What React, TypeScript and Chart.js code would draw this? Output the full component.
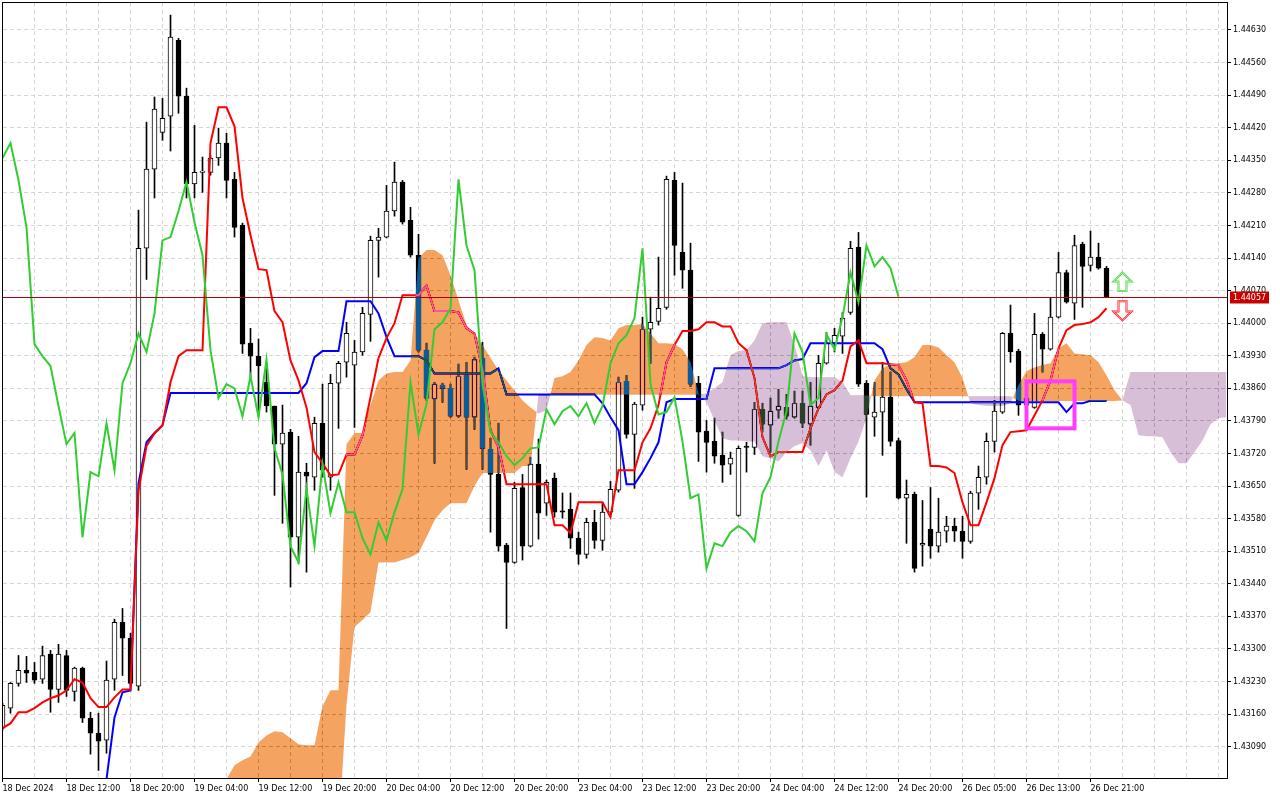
import React, { useEffect, useRef } from 'react';
import { Chart, registerables } from 'chart.js';

// ---------- data ----------
const xLabelIndex = [0, 8, 16, 24, 32, 40, 48, 56, 64, 72, 80, 88, 96, 104, 112, 120, 128, 136];
const xLabels = ['18 Dec 2024', '18 Dec 12:00', '18 Dec 20:00', '19 Dec 04:00', '19 Dec 12:00', '19 Dec 20:00',
  '20 Dec 04:00', '20 Dec 12:00', '20 Dec 20:00', '23 Dec 04:00', '23 Dec 12:00', '23 Dec 20:00',
  '24 Dec 04:00', '24 Dec 12:00', '24 Dec 20:00', '26 Dec 05:00', '26 Dec 13:00', '26 Dec 21:00'];

const yTicks = [1.43090, 1.43160, 1.43230, 1.43300, 1.43370, 1.43440, 1.43510, 1.43580, 1.43650, 1.43720,
  1.43790, 1.43860, 1.43930, 1.44000, 1.44070, 1.44140, 1.44210, 1.44280, 1.44350, 1.44420, 1.44490,
  1.44560, 1.44630];

const opens = [
  1.43130, 1.43173, 1.43226, 1.43254, 1.43250, 1.43235, 1.43289, 1.43213, 1.43286, 1.43209,
  1.43259, 1.43151, 1.43119, 1.43104, 1.43235, 1.43357, 1.43323, 1.43220, 1.44161, 1.44331,
  1.44410, 1.44445, 1.44608, 1.44488, 1.44299, 1.44324, 1.44324, 1.44355, 1.44387, 1.44309,
  1.44211, 1.43957, 1.43929, 1.43873, 1.43822, 1.43740, 1.43766, 1.43540, 1.43680, 1.43669,
  1.43785, 1.43669, 1.43871, 1.43916, 1.43910, 1.43938, 1.44019, 1.44178, 1.44185, 1.44241,
  1.44303, 1.44221, 1.44146, 1.43942, 1.43837, 1.43867, 1.43860, 1.43800, 1.43888, 1.43798,
  1.43925, 1.43729, 1.43675, 1.43523, 1.43486, 1.43647, 1.43521, 1.43697, 1.43613, 1.43667,
  1.43597, 1.43600, 1.43538, 1.43503, 1.43572, 1.43533, 1.43594, 1.43641, 1.43875, 1.43761,
  1.43824, 1.43987, 1.44004, 1.44034, 1.44307, 1.44152, 1.44114, 1.43871, 1.43768, 1.43746,
  1.43716, 1.43697, 1.43587, 1.43736, 1.43733, 1.43815, 1.43781, 1.43813, 1.43819, 1.43798,
  1.43828, 1.43783, 1.43819, 1.43914, 1.43957, 1.43972, 1.44023, 1.44163, 1.43871, 1.43798,
  1.43809, 1.43841, 1.43748, 1.43624, 1.43632, 1.43523, 1.43557, 1.43521, 1.43553, 1.43564,
  1.43553, 1.43531, 1.43635, 1.43669, 1.43746, 1.43809, 1.43978, 1.43940, 1.43824, 1.43819,
  1.43976, 1.43944, 1.44013, 1.44109, 1.44043, 1.44170, 1.44124, 1.44142, 1.44118,
];
const highs = [
  1.43183, 1.43228, 1.43286, 1.43284, 1.43271, 1.43306, 1.43297, 1.43310, 1.43297, 1.43261,
  1.43261, 1.43164, 1.43162, 1.43274, 1.43364, 1.43387, 1.43334, 1.44243, 1.44432, 1.44486,
  1.44483, 1.44662, 1.44612, 1.44505, 1.44425, 1.44357, 1.44361, 1.44419, 1.44408, 1.44324,
  1.44215, 1.43989, 1.43966, 1.43910, 1.43822, 1.43824, 1.43772, 1.43757, 1.43699, 1.43798,
  1.43869, 1.43890, 1.43918, 1.44002, 1.43963, 1.44034, 1.44187, 1.44204, 1.44296, 1.44346,
  1.44307, 1.44249, 1.44191, 1.43957, 1.43873, 1.43871, 1.43869, 1.43912, 1.43916, 1.43927,
  1.43959, 1.43753, 1.43785, 1.43527, 1.43658, 1.43675, 1.43712, 1.43751, 1.43663, 1.43678,
  1.43635, 1.43635, 1.43551, 1.43581, 1.43598, 1.43615, 1.43660, 1.43884, 1.43888, 1.43830,
  1.44013, 1.44056, 1.44142, 1.44316, 1.44324, 1.44301, 1.44172, 1.43886, 1.43791, 1.43796,
  1.43766, 1.43723, 1.43736, 1.43744, 1.43830, 1.43828, 1.43839, 1.43858, 1.43847, 1.43854,
  1.43854, 1.43873, 1.43931, 1.43980, 1.43989, 1.44023, 1.44176, 1.44195, 1.43877, 1.43873,
  1.43916, 1.43895, 1.43753, 1.43663, 1.43637, 1.43619, 1.43647, 1.43624, 1.43585, 1.43581,
  1.43585, 1.43639, 1.43693, 1.43764, 1.43834, 1.43980, 1.44039, 1.43944, 1.43852, 1.44021,
  1.43980, 1.44054, 1.44152, 1.44114, 1.44189, 1.44174, 1.44198, 1.44172, 1.44122,
];
const lows = [
  1.43125, 1.43162, 1.43220, 1.43228, 1.43226, 1.43226, 1.43164, 1.43185, 1.43198, 1.43188,
  1.43142, 1.43074, 1.43039, 1.43076, 1.43211, 1.43243, 1.43222, 1.43211, 1.44094, 1.44269,
  1.44393, 1.44370, 1.44451, 1.44269, 1.44269, 1.44281, 1.44318, 1.44339, 1.44269, 1.44185,
  1.43935, 1.43884, 1.43800, 1.43809, 1.43630, 1.43570, 1.43433, 1.43484, 1.43465, 1.43641,
  1.43669, 1.43641, 1.43774, 1.43884, 1.43776, 1.43931, 1.43961, 1.44099, 1.44183, 1.44230,
  1.44213, 1.44142, 1.43938, 1.43834, 1.43699, 1.43830, 1.43798, 1.43798, 1.43686, 1.43772,
  1.43686, 1.43551, 1.43510, 1.43344, 1.43484, 1.43491, 1.43519, 1.43536, 1.43587, 1.43583,
  1.43581, 1.43516, 1.43482, 1.43495, 1.43516, 1.43512, 1.43587, 1.43637, 1.43753, 1.43645,
  1.43813, 1.43914, 1.43996, 1.44030, 1.44103, 1.44075, 1.43864, 1.43703, 1.43680, 1.43699,
  1.43658, 1.43675, 1.43585, 1.43680, 1.43718, 1.43766, 1.43723, 1.43796, 1.43794, 1.43796,
  1.43776, 1.43738, 1.43817, 1.43912, 1.43938, 1.43935, 1.44019, 1.43864, 1.43626, 1.43757,
  1.43716, 1.43736, 1.43622, 1.43527, 1.43465, 1.43478, 1.43495, 1.43508, 1.43529, 1.43531,
  1.43495, 1.43527, 1.43600, 1.43654, 1.43723, 1.43806, 1.43916, 1.43802, 1.43813, 1.43817,
  1.43895, 1.43942, 1.44011, 1.44043, 1.44008, 1.44034, 1.44112, 1.44116, 1.44056,
];
const closes = [
  1.43179, 1.43226, 1.43254, 1.43248, 1.43233, 1.43286, 1.43213, 1.43289, 1.43211, 1.43259,
  1.43151, 1.43119, 1.43102, 1.43233, 1.43357, 1.43323, 1.43226, 1.44161, 1.44331, 1.44460,
  1.44440, 1.44615, 1.44488, 1.44299, 1.44324, 1.44327, 1.44355, 1.44387, 1.44307, 1.44206,
  1.43955, 1.43929, 1.43908, 1.43822, 1.43740, 1.43764, 1.43540, 1.43680, 1.43671, 1.43785,
  1.43684, 1.43871, 1.43914, 1.43978, 1.43938, 1.44021, 1.44178, 1.44185, 1.44241, 1.44303,
  1.44217, 1.44146, 1.43942, 1.43839, 1.43869, 1.43860, 1.43800, 1.43886, 1.43798, 1.43922,
  1.43731, 1.43675, 1.43521, 1.43486, 1.43645, 1.43521, 1.43697, 1.43592, 1.43658, 1.43594,
  1.43594, 1.43538, 1.43503, 1.43572, 1.43533, 1.43594, 1.43643, 1.43873, 1.43761, 1.43826,
  1.43987, 1.44002, 1.44032, 1.44309, 1.44167, 1.44114, 1.43869, 1.43766, 1.43744, 1.43714,
  1.43695, 1.43710, 1.43731, 1.43733, 1.43815, 1.43783, 1.43811, 1.43822, 1.43800, 1.43828,
  1.43785, 1.43822, 1.43914, 1.43957, 1.43974, 1.44011, 1.44161, 1.43869, 1.43804, 1.43809,
  1.43841, 1.43746, 1.43624, 1.43632, 1.43473, 1.43527, 1.43521, 1.43551, 1.43564, 1.43553,
  1.43531, 1.43635, 1.43669, 1.43746, 1.43811, 1.43978, 1.43938, 1.43824, 1.43839, 1.43976,
  1.43944, 1.44013, 1.44109, 1.44045, 1.44167, 1.44122, 1.44142, 1.44118, 1.44057,
];

const tenkan = [
  1.43130, 1.43140, 1.43164, 1.43164, 1.43173, 1.43185, 1.43194, 1.43200, 1.43211, 1.43235,
  1.43228, 1.43194, 1.43175, 1.43175, 1.43196, 1.43213, 1.43213, 1.43641, 1.43736, 1.43763,
  1.43780, 1.43873, 1.43929, 1.43942, 1.43942, 1.43942, 1.44387, 1.44464, 1.44464, 1.44423,
  1.44269, 1.44189, 1.44116, 1.44114, 1.44026, 1.44002, 1.43920, 1.43877, 1.43819, 1.43723,
  1.43699, 1.43673, 1.43675, 1.43718, 1.43718, 1.43759, 1.43841, 1.43925, 1.43968, 1.44000,
  1.44060, 1.44060, 1.44060, 1.44081, 1.44026, 1.44026, 1.44026, 1.44023, 1.43989, 1.43978,
  1.43899, 1.43770, 1.43733, 1.43654, 1.43654, 1.43654, 1.43654, 1.43654, 1.43654, 1.43566,
  1.43566, 1.43549, 1.43615, 1.43615, 1.43615, 1.43615, 1.43583, 1.43684, 1.43684, 1.43684,
  1.43744, 1.43774, 1.43824, 1.43916, 1.43953, 1.43983, 1.43983, 1.43987, 1.44002, 1.44002,
  1.43993, 1.43993, 1.43957, 1.43942, 1.43882, 1.43755, 1.43714, 1.43723, 1.43723, 1.43723,
  1.43723, 1.43774, 1.43817, 1.43847, 1.43856, 1.43877, 1.43950, 1.43963, 1.43914, 1.43914,
  1.43914, 1.43912, 1.43910, 1.43877, 1.43830, 1.43828, 1.43693, 1.43693, 1.43690, 1.43678,
  1.43615, 1.43566, 1.43566, 1.43615, 1.43667, 1.43738, 1.43766, 1.43768, 1.43770, 1.43802,
  1.43834, 1.43877, 1.43946, 1.43985, 1.43996, 1.43998, 1.44002, 1.44013, 1.44032,
];
const kijun = [
  1.42943, 1.42943, 1.42943, 1.42943, 1.42943, 1.42943, 1.42943, 1.42943, 1.42943, 1.42943,
  1.42943, 1.42943, 1.42943, 1.43020, 1.43153, 1.43207, 1.43211, 1.43656, 1.43744, 1.43764,
  1.43781, 1.43850, 1.43850, 1.43850, 1.43850, 1.43850, 1.43850, 1.43850, 1.43850, 1.43850,
  1.43850, 1.43850, 1.43850, 1.43850, 1.43850, 1.43850, 1.43850, 1.43850, 1.43871, 1.43927,
  1.43940, 1.43940, 1.43940, 1.44047, 1.44047, 1.44047, 1.44047, 1.44021, 1.43970, 1.43929,
  1.43929, 1.43929, 1.43929, 1.43920, 1.43892, 1.43892, 1.43892, 1.43892, 1.43892, 1.43892,
  1.43892, 1.43892, 1.43903, 1.43847, 1.43847, 1.43847, 1.43847, 1.43847, 1.43847, 1.43847,
  1.43847, 1.43847, 1.43847, 1.43847, 1.43847, 1.43828, 1.43798, 1.43770, 1.43654, 1.43654,
  1.43680, 1.43710, 1.43744, 1.43830, 1.43837, 1.43837, 1.43837, 1.43837, 1.43837, 1.43903,
  1.43903, 1.43903, 1.43903, 1.43903, 1.43903, 1.43903, 1.43903, 1.43903, 1.43910, 1.43920,
  1.43923, 1.43957, 1.43957, 1.43957, 1.43957, 1.43957, 1.43957, 1.43957, 1.43957, 1.43957,
  1.43944, 1.43903, 1.43890, 1.43858, 1.43830, 1.43830, 1.43830, 1.43830, 1.43830, 1.43830,
  1.43830, 1.43830, 1.43830, 1.43830, 1.43830, 1.43830, 1.43830, 1.43830, 1.43830, 1.43830,
  1.43830, 1.43830, 1.43830, 1.43809, 1.43828, 1.43828, 1.43833, 1.43833, 1.43833,
];
const senkouA = [
  1.42980, 1.42980, 1.42980, 1.42980, 1.42980, 1.42980, 1.42980, 1.42980, 1.42980, 1.42980,
  1.42980, 1.42980, 1.42980, 1.42980, 1.42980, 1.42980, 1.42980, 1.42980, 1.42980, 1.42980,
  1.42980, 1.42980, 1.42980, 1.42980, 1.42980, 1.42980, 1.42980, 1.43000, 1.43020, 1.43050,
  1.43061, 1.43069, 1.43099, 1.43114, 1.43123, 1.43121, 1.43108, 1.43095, 1.43093, 1.43093,
  1.43177, 1.43211, 1.43211, 1.43740, 1.43764, 1.43764, 1.43824, 1.43877, 1.43892, 1.43895,
  1.43895, 1.43920, 1.44140, 1.44157, 1.44157, 1.44146, 1.44103, 1.44049, 1.43996, 1.43978,
  1.43953, 1.43925, 1.43899, 1.43877, 1.43856, 1.43834, 1.43819, 1.43806, 1.43813, 1.43882,
  1.43886, 1.43895, 1.43920, 1.43953, 1.43970, 1.43968, 1.43963, 1.43989, 1.43996, 1.43996,
  1.43998, 1.43978, 1.43957, 1.43957, 1.43955, 1.43944, 1.43916, 1.43849, 1.43830, 1.43791,
  1.43753, 1.43748, 1.43748, 1.43746, 1.43746, 1.43714, 1.43710, 1.43703, 1.43723, 1.43736,
  1.43742, 1.43727, 1.43693, 1.43727, 1.43680, 1.43669, 1.43710, 1.43746, 1.43796, 1.43877,
  1.43903, 1.43912, 1.43914, 1.43916, 1.43927, 1.43953, 1.43953, 1.43948, 1.43931, 1.43916,
  1.43882, 1.43828, 1.43824, 1.43822, 1.43822, 1.43822, 1.43828, 1.43867, 1.43897, 1.43905,
  1.43910, 1.43914, 1.43946, 1.43957, 1.43935, 1.43933, 1.43931, 1.43916, 1.43888, 1.43856,
  1.43834, 1.43824, 1.43759, 1.43757, 1.43757, 1.43755, 1.43723, 1.43699, 1.43699, 1.43723,
  1.43748, 1.43783, 1.43796, 1.43798,
];
const senkouB = [
  1.42900, 1.42900, 1.42900, 1.42900, 1.42900, 1.42900, 1.42900, 1.42900, 1.42900, 1.42900,
  1.42900, 1.42900, 1.42900, 1.42900, 1.42900, 1.42900, 1.42900, 1.42900, 1.42900, 1.42900,
  1.42900, 1.42900, 1.42900, 1.42900, 1.42900, 1.42900, 1.42900, 1.42900, 1.42900, 1.42900,
  1.42900, 1.42900, 1.42900, 1.42900, 1.42900, 1.42900, 1.42900, 1.42900, 1.42900, 1.42900,
  1.42900, 1.42900, 1.42900, 1.43179, 1.43347, 1.43362, 1.43379, 1.43486, 1.43486, 1.43486,
  1.43491, 1.43497, 1.43506, 1.43540, 1.43576, 1.43598, 1.43613, 1.43613, 1.43613, 1.43650,
  1.43678, 1.43678, 1.43678, 1.43678, 1.43678, 1.43693, 1.43693, 1.43845, 1.43845, 1.43846,
  1.43846, 1.43846, 1.43846, 1.43846, 1.43846, 1.43846, 1.43846, 1.43846, 1.43846, 1.43846,
  1.43846, 1.43846, 1.43846, 1.43846, 1.43846, 1.43846, 1.43846, 1.43846, 1.43849, 1.43860,
  1.43873, 1.43931, 1.43940, 1.43942, 1.43963, 1.44000, 1.44002, 1.44002, 1.44002, 1.43953,
  1.43886, 1.43884, 1.43884, 1.43884, 1.43884, 1.43873, 1.43845, 1.43845, 1.43845, 1.43843,
  1.43843, 1.43843, 1.43843, 1.43843, 1.43843, 1.43843, 1.43843, 1.43843, 1.43843, 1.43843,
  1.43843, 1.43843, 1.43843, 1.43843, 1.43843, 1.43843, 1.43843, 1.43833, 1.43833, 1.43833,
  1.43833, 1.43833, 1.43833, 1.43833, 1.43833, 1.43833, 1.43833, 1.43833, 1.43833, 1.43833,
  1.43834, 1.43895, 1.43895, 1.43895, 1.43895, 1.43895, 1.43895, 1.43895, 1.43895, 1.43895,
  1.43895, 1.43895, 1.43895, 1.43895,
];

const chikouShift = 26;
const lastPrice = 1.44057;
const signalBox = { from: 128, to: 134, top: 1.43875, bottom: 1.43774 };
const arrowUp = { index: 140, top: 1.44109, bottom: 1.44069 };
const arrowDown = { index: 140, top: 1.44047, bottom: 1.44006 };

// ---------- styling ----------
const FONT_FAMILY = 'DejaVu Sans';
const GRID = '#d6d6d6';
// The cloud is XOR-painted like the terminal does: these "inverse" colours turn white into
// sandy brown (#F4A460) and thistle (#D8BFD8), and recolour anything drawn underneath.
const CLOUD_UP_INV = 'rgb(11,91,159)';
const CLOUD_DOWN_INV = 'rgb(39,64,39)';
const CLOUD_DATASET = 0;

// Registered before the built-ins so it runs ahead of the filler plugin.
const cloudBlendPlugin = {
  id: 'cloudBlend',
  beforeDatasetDraw(chart: any, args: any) {
    if (args.index === CLOUD_DATASET) {
      chart.ctx.save();
      chart.ctx.globalCompositeOperation = 'difference';
    }
  },
  afterDatasetDraw(chart: any, args: any) {
    if (args.index === CLOUD_DATASET) chart.ctx.restore();
  },
};

Chart.register(cloudBlendPlugin as any);
Chart.register(...registerables);

function drawArrow(ctx: any, cx: number, yTop: number, yBot: number, up: boolean, outer: string, inner: string) {
  const hw = 9, sw = 4, hh = 9;
  ctx.beginPath();
  if (up) {
    ctx.moveTo(cx, yTop);
    ctx.lineTo(cx + hw, yTop + hh);
    ctx.lineTo(cx + sw, yTop + hh);
    ctx.lineTo(cx + sw, yBot);
    ctx.lineTo(cx - sw, yBot);
    ctx.lineTo(cx - sw, yTop + hh);
    ctx.lineTo(cx - hw, yTop + hh);
  } else {
    ctx.moveTo(cx, yBot);
    ctx.lineTo(cx + hw, yBot - hh);
    ctx.lineTo(cx + sw, yBot - hh);
    ctx.lineTo(cx + sw, yTop);
    ctx.lineTo(cx - sw, yTop);
    ctx.lineTo(cx - sw, yBot - hh);
    ctx.lineTo(cx - hw, yBot - hh);
  }
  ctx.closePath();
  ctx.fillStyle = '#ffffff';
  ctx.fill();
  ctx.lineJoin = 'miter';
  ctx.lineWidth = 2;
  ctx.strokeStyle = outer;
  ctx.stroke();
  ctx.lineWidth = 0.8;
  ctx.strokeStyle = inner;
  ctx.stroke();
}

export default function App() {
  const ref = useRef<HTMLCanvasElement | null>(null);

  useEffect(() => {
    document.body.style.margin = '0';
    const canvas = ref.current;
    if (!canvas) return;

    const idx = closes.map((_, i) => i);
    const bull = idx.map((i) => closes[i] >= opens[i]);
    const bodies = idx.map((i) => ({ x: i, y: [opens[i], closes[i]] }));
    const wicks = idx.map((i) => ({ x: i, y: [lows[i], highs[i]] }));
    const chikou = closes.slice(chikouShift).map((v, i) => ({ x: i, y: v }));
    const pts = (arr: number[]) => arr.map((v, i) => ({ x: i, y: v }));

    const bgPlugin = {
      id: 'bg',
      beforeDraw(chart: any) {
        const { ctx, width, height } = chart;
        ctx.save();
        ctx.fillStyle = '#ffffff';
        ctx.fillRect(0, 0, width, height);
        ctx.restore();
      },
    };

    const overlayPlugin = {
      id: 'overlay',
      afterDraw(chart: any) {
        const { ctx, chartArea: a, scales } = chart;
        const xs = scales.x;
        const ys = scales.y;
        ctx.save();
        const py = Math.round(ys.getPixelForValue(lastPrice)) + 0.5;
        ctx.strokeStyle = '#b40000';
        ctx.lineWidth = 1;
        ctx.beginPath();
        ctx.moveTo(a.left, py);
        ctx.lineTo(a.right, py);
        ctx.stroke();

        const bx1 = xs.getPixelForValue(signalBox.from);
        const bx2 = xs.getPixelForValue(signalBox.to);
        const by1 = ys.getPixelForValue(signalBox.top);
        const by2 = ys.getPixelForValue(signalBox.bottom);
        ctx.strokeStyle = '#ff3cff';
        ctx.lineWidth = 4;
        ctx.strokeRect(bx1, by1, bx2 - bx1, by2 - by1);

        drawArrow(ctx, xs.getPixelForValue(arrowUp.index), ys.getPixelForValue(arrowUp.top),
          ys.getPixelForValue(arrowUp.bottom), true, '#4fd64f', '#b6f5a6');
        drawArrow(ctx, xs.getPixelForValue(arrowDown.index), ys.getPixelForValue(arrowDown.top),
          ys.getPixelForValue(arrowDown.bottom), false, '#ff2020', '#ffb0c0');

        ctx.strokeStyle = '#000000';
        ctx.lineWidth = 1;
        ctx.strokeRect(a.left - 0.5, a.top - 0.5, a.right - a.left + 1, a.bottom - a.top + 1);

        ctx.fillStyle = '#c80000';
        ctx.fillRect(a.right + 3, py - 6, 39, 12);
        ctx.fillStyle = '#ffffff';
        ctx.font = `8px "${FONT_FAMILY}"`;
        ctx.textBaseline = 'middle';
        ctx.textAlign = 'left';
        ctx.fillText(lastPrice.toFixed(5), a.right + 6, py + 0.5);
        ctx.restore();
      },
    };

    const chart = new Chart(canvas, {
      type: 'bar',
      data: {
        datasets: [
          {
            type: 'line',
            data: pts(senkouA),
            borderWidth: 0,
            borderColor: 'rgba(0,0,0,0)',
            pointRadius: 0,
            fill: { target: 1, above: CLOUD_UP_INV, below: CLOUD_DOWN_INV },
            order: 10,
            clip: 0,
          },
          {
            type: 'line',
            data: pts(senkouB),
            borderWidth: 0,
            borderColor: 'rgba(0,0,0,0)',
            pointRadius: 0,
            fill: false,
            order: 10,
            clip: 0,
          },
          {
            type: 'bar',
            data: wicks,
            backgroundColor: '#000000',
            borderWidth: 0,
            barThickness: 1,
            grouped: false,
            borderSkipped: false,
            clip: 0,
            order: 21,
          },
          {
            type: 'bar',
            data: bodies,
            backgroundColor: bull.map((b) => (b ? '#ffffff' : '#000000')),
            borderColor: '#000000',
            borderWidth: 1,
            barThickness: 5,
            minBarLength: 1,
            grouped: false,
            borderSkipped: false,
            clip: 0,
            order: 20,
          },
          {
            type: 'line',
            data: chikou,
            borderColor: '#32cd32',
            borderWidth: 2,
            pointRadius: 0,
            fill: false,
            order: 1,
            clip: 0,
          },
          {
            type: 'line',
            data: pts(kijun),
            borderColor: '#0000ff',
            borderWidth: 2,
            pointRadius: 0,
            fill: false,
            order: 19,
            clip: 0,
          },
          {
            type: 'line',
            data: pts(tenkan),
            borderColor: '#ff0000',
            borderWidth: 2,
            pointRadius: 0,
            fill: false,
            order: 18,
            clip: 0,
          },
        ] as any,
      },
      options: {
        responsive: false,
        animation: false,
        events: [],
        layout: { padding: { left: 3, top: 3, right: 0, bottom: 0 } },
        plugins: {
          legend: { display: false },
          tooltip: { enabled: false },
        },
        scales: {
          x: {
            type: 'linear',
            min: 0.0625,
            max: 153.0625,
            offset: false,
            afterBuildTicks: (s: any) => {
              const t: any[] = [];
              for (let v = 0; v <= 152; v += 4) t.push({ value: v });
              s.ticks = t;
            },
            afterFit: (s: any) => {
              s.height = 22;
              s.paddingLeft = 0;
              s.paddingRight = 0;
            },
            grid: {
              offset: false,
              color: GRID,
              lineWidth: 1,
              drawTicks: true,
              tickLength: 4,
              tickColor: (c: any) => (c.tick && xLabelIndex.includes(c.tick.value) ? '#000000' : 'rgba(0,0,0,0)'),
            },
            border: { display: true, color: '#000000', width: 1, dash: [4, 3] },
            ticks: {
              autoSkip: false,
              maxRotation: 0,
              minRotation: 0,
              align: 'start',
              padding: 2,
              color: '#000000',
              font: { family: FONT_FAMILY, size: 8 },
              callback: (v: any) => {
                const k = xLabelIndex.indexOf(Number(v));
                return k >= 0 ? xLabels[k] : '';
              },
            },
          },
          y: {
            type: 'linear',
            position: 'right',
            min: 1.430227,
            max: 1.44688,
            afterBuildTicks: (s: any) => {
              s.ticks = yTicks.map((v) => ({ value: v }));
            },
            afterFit: (s: any) => {
              s.width = 53;
              s.paddingTop = 0;
              s.paddingBottom = 0;
            },
            grid: {
              color: GRID,
              lineWidth: 1,
              drawTicks: true,
              tickLength: 4,
              tickColor: '#000000',
            },
            border: { display: true, color: '#000000', width: 1, dash: [4, 3] },
            ticks: {
              padding: 2,
              color: '#000000',
              font: { family: FONT_FAMILY, size: 8 },
              callback: (v: any) => Number(v).toFixed(5),
            },
          },
        },
      } as any,
      plugins: [bgPlugin, overlayPlugin],
    });

    return () => chart.destroy();
  }, []);

  return (
    <canvas
      ref={ref}
      width={1280}
      height={800}
      style={{ display: 'block', width: '1280px', height: '800px' }}
    />
  );
}
